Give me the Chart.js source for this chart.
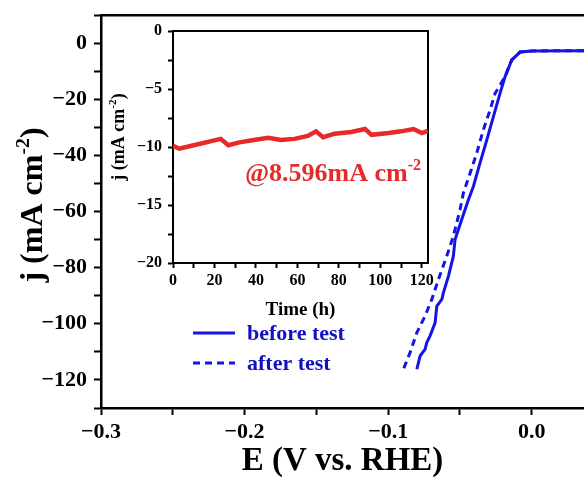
<!DOCTYPE html>
<html>
<head>
<meta charset="utf-8">
<script src="https://cdn.jsdelivr.net/npm/chart.js@4.4.0/dist/chart.umd.min.js"></script>
<style>
  html, body { margin: 0; padding: 0; background: #fff; }
  #wrap { position: relative; width: 584px; height: 481px; }
  #main { position: absolute; left: 0; top: 0; }
  #inset { position: absolute; left: 104px; top: 20px; }
</style>
</head>
<body>
<div id="wrap">
  <canvas id="main" width="584" height="481"></canvas>
  <canvas id="inset" width="336" height="305"></canvas>
</div>
<script>
// LSV curves, potential (V vs. RHE) and current density (mA cm-2)
const beforeE = [0.0364, 0.0, -0.0081, -0.0139, -0.0186, -0.0221, -0.0267, -0.0313, -0.036, -0.0406, -0.0441, -0.0476, -0.0534, -0.0546, -0.058, -0.0615, -0.0626, -0.0661, -0.0673, -0.0708, -0.0731, -0.0743, -0.0777, -0.0789, -0.08];
const beforeJ = [-2.7, -2.8, -3.2, -6.0, -12.0, -17.9, -26.2, -34.5, -42.7, -51.0, -55.8, -61.1, -70.0, -75.9, -83.0, -88.9, -91.3, -93.7, -99.6, -104.3, -106.7, -109.1, -111.4, -113.8, -116.2];
const afterE = [0.0364, 0.0, -0.0081, -0.0139, -0.0186, -0.0255, -0.029, -0.0337, -0.0383, -0.0429, -0.0476, -0.0499, -0.0546, -0.0592, -0.065, -0.0696, -0.0743, -0.08, -0.0847, -0.0894];
const afterJ = [-2.7, -2.8, -3.2, -6.0, -12.0, -17.9, -23.8, -30.9, -39.2, -46.3, -53.4, -59.3, -68.8, -75.9, -84.2, -91.3, -97.2, -103.1, -110.2, -116.2];
const seriesNames = ['before test', 'after test'];

// main axes ticks (labelled ones listed separately)
const eTicks = [-0.3, -0.25, -0.2, -0.15, -0.1, -0.05, 0.0];
const eLabels = ['\u22120.3', '\u22120.2', '\u22120.1', '0.0'];
const jTicks = [10, 0, -10, -20, -30, -40, -50, -60, -70, -80, -90, -100, -110, -120, -130];
const jLabels = ['0', '\u221220', '\u221240', '\u221260', '\u221280', '\u2212100', '\u2212120'];

// stability test (inset)
const timeH = [0, 3, 10, 19.5, 23, 26.7, 32, 39, 46, 52, 58.6, 65, 69, 72.4, 78, 86, 92.6, 95.8, 104, 110, 116, 120, 123];
const currJ = [-9.9, -10.15, -9.85, -9.45, -9.3, -9.85, -9.6, -9.4, -9.2, -9.4, -9.3, -9.05, -8.65, -9.15, -8.85, -8.7, -8.45, -8.95, -8.8, -8.65, -8.45, -8.8, -8.6];
const tTicks = [0, 10, 20, 30, 40, 50, 60, 70, 80, 90, 100, 110, 120];
const tLabels = ['0', '20', '40', '60', '80', '100', '120'];
const cTicks = [0, -2.5, -5, -7.5, -10, -12.5, -15, -17.5, -20];
const cLabels = ['0', '\u22125', '\u221210', '\u221215', '\u221220'];
const insetNote = ['@8.596mA cm', '-2'];

const serif = "'Liberation Serif', 'Times New Roman', serif";
const blue = '#1414e6';
const legendBlue = '#1010c4';
const red = '#e62a2a';

function fnt(size) { return 'bold ' + size + 'px ' + serif; }

// every other tick carries a label
function setTicks(values) {
    return s => { s.ticks = values.map(v => ({value: v})); };
}
function labelEvery(labels, offset) {
    return (v, i) => ((i - offset) % 2 === 0 ? labels[(i - offset) / 2] : '');
}

// fixed axis sizes, no extra room for overflowing labels
function fixW(w) { return s => { s.width = w; s.paddingTop = 0; s.paddingBottom = 0; }; }
function fixH(h) { return s => { s.height = h; s.paddingLeft = 0; s.paddingRight = 0; }; }

// text with a superscript part, drawn at baseline y
function drawRich(ctx, parts, x, y, size, color, align) {
    ctx.save();
    ctx.fillStyle = color;
    ctx.textBaseline = 'alphabetic';
    ctx.textAlign = 'left';
    let w = 0;
    parts.forEach(p => { ctx.font = fnt(p.sup ? size * 0.62 : size); w += ctx.measureText(p.text).width; });
    let cx = align === 'center' ? x - w / 2 : x;
    parts.forEach(p => {
        ctx.font = fnt(p.sup ? size * 0.62 : size);
        ctx.fillText(p.text, cx, p.sup ? y - size * 0.42 : y);
        cx += ctx.measureText(p.text).width;
    });
    ctx.restore();
}

const mainDecor = {
    id: 'mainDecor',
    afterDraw(chart) {
        const ctx = chart.ctx;
        // y title
        ctx.save();
        ctx.translate(42, 205);
        ctx.rotate(-Math.PI / 2);
        drawRich(ctx, [{text: 'j (mA cm'}, {text: '-2', sup: true}, {text: ')'}], 0, 0, 32, '#000', 'center');
        ctx.restore();
        // legend
        const ds = chart.data.datasets;
        const rows = [333, 363];
        ds.forEach((d, i) => {
            ctx.save();
            ctx.strokeStyle = d.borderColor;
            ctx.lineWidth = 3;
            ctx.setLineDash(d.borderDash || []);
            ctx.beginPath();
            ctx.moveTo(193, rows[i]);
            ctx.lineTo(235, rows[i]);
            ctx.stroke();
            ctx.restore();
            drawRich(ctx, [{text: d.label}], 247, rows[i] + 7, 22, legendBlue, 'left');
        });
    }
};

new Chart(document.getElementById('main'), {
    type: 'line',
    data: {
        datasets: [
            { label: seriesNames[0], data: beforeE.map((e, i) => ({x: e, y: beforeJ[i]})), borderColor: blue, borderWidth: 3, pointRadius: 0, tension: 0, fill: false },
            { label: seriesNames[1], data: afterE.map((e, i) => ({x: e, y: afterJ[i]})), borderColor: blue, borderWidth: 3, borderDash: [7, 5], pointRadius: 0, tension: 0, fill: false }
        ]
    },
    options: {
        responsive: false,
        animation: false,
        layout: { padding: { top: 15, left: 0, right: 0, bottom: 0 } },
        plugins: { legend: { display: false }, tooltip: { enabled: false } },
        scales: {
            x: {
                type: 'linear', position: 'bottom', min: -0.3, max: 0.0364,
                afterBuildTicks: setTicks(eTicks),
                ticks: {
                    autoSkip: false, maxRotation: 0, padding: 4, color: '#000',
                    font: { family: serif, size: 22, weight: 'bold' },
                    callback: labelEvery(eLabels, 0)
                },
                grid: { drawOnChartArea: false, drawTicks: true, tickLength: 7, tickWidth: 2, tickColor: '#000' },
                border: { display: true, color: '#000', width: 2.5 },
                title: { display: true, text: 'E (V vs. RHE)', color: '#000', font: { family: serif, size: 33, weight: 'bold' }, padding: { top: 0, bottom: 0 } },
                afterFit: fixH(73)
            },
            xTop: {
                type: 'linear', position: 'top', min: -0.3, max: 0.0364,
                ticks: { display: false }, grid: { display: false },
                border: { display: true, color: '#000', width: 2.5 },
                afterFit: fixH(0)
            },
            y: {
                type: 'linear', position: 'left', min: -130, max: 10,
                afterBuildTicks: setTicks(jTicks),
                ticks: {
                    autoSkip: false, padding: 7, color: '#000',
                    font: { family: serif, size: 22, weight: 'bold' },
                    callback: labelEvery(jLabels, 1)
                },
                grid: { drawOnChartArea: false, drawTicks: true, tickLength: 7, tickWidth: 2, tickColor: '#000' },
                border: { display: true, color: '#000', width: 2.5 },
                afterFit: fixW(101)
            }
        }
    },
    plugins: [mainDecor]
});

const insetDecor = {
    id: 'insetDecor',
    afterDraw(chart) {
        const ctx = chart.ctx;
        ctx.save();
        ctx.translate(20, 117);
        ctx.rotate(-Math.PI / 2);
        drawRich(ctx, [{text: 'j (mA cm'}, {text: '-2', sup: true}, {text: ')'}], 0, 0, 18, '#000', 'center');
        ctx.restore();
        const xs = chart.scales.x, ys = chart.scales.y;
        drawRich(ctx, [{text: insetNote[0]}, {text: insetNote[1], sup: true}],
            xs.getPixelForValue(34.7), ys.getPixelForValue(-12.9), 26, red, 'left');
    }
};

new Chart(document.getElementById('inset'), {
    type: 'line',
    data: {
        datasets: [
            { label: 'stability', data: timeH.map((t, i) => ({x: t, y: currJ[i]})), borderColor: red, borderWidth: 4.5, pointRadius: 0, tension: 0, fill: false }
        ]
    },
    options: {
        responsive: false,
        animation: false,
        layout: { padding: { top: 11, left: 0, right: 12, bottom: 0 } },
        plugins: { legend: { display: false }, tooltip: { enabled: false } },
        scales: {
            x: {
                type: 'linear', position: 'bottom', min: 0, max: 123,
                afterBuildTicks: setTicks(tTicks),
                ticks: {
                    autoSkip: false, maxRotation: 0, padding: 3, color: '#000',
                    font: { family: serif, size: 16, weight: 'bold' },
                    callback: labelEvery(tLabels, 0)
                },
                grid: { drawOnChartArea: false, drawTicks: true, tickLength: 5, tickWidth: 2, tickColor: '#000' },
                border: { display: true, color: '#000', width: 2 },
                title: { display: true, text: 'Time (h)', color: '#000', font: { family: serif, size: 19, weight: 'bold' }, padding: { top: 0, bottom: 4 } },
                afterFit: fixH(62)
            },
            x2: {
                type: 'linear', position: 'top', min: 0, max: 123,
                ticks: { display: false }, grid: { display: false },
                border: { display: true, color: '#000', width: 2 },
                afterFit: fixH(0)
            },
            y: {
                type: 'linear', position: 'left', min: -20, max: 0,
                afterBuildTicks: setTicks(cTicks),
                ticks: {
                    autoSkip: false, padding: 6, color: '#000',
                    font: { family: serif, size: 16, weight: 'bold' },
                    callback: labelEvery(cLabels, 0)
                },
                grid: { drawOnChartArea: false, drawTicks: true, tickLength: 5, tickWidth: 2, tickColor: '#000' },
                border: { display: true, color: '#000', width: 2 },
                afterFit: fixW(69)
            },
            y2: {
                type: 'linear', position: 'right', min: -20, max: 0,
                ticks: { display: false }, grid: { display: false },
                border: { display: true, color: '#000', width: 2 },
                afterFit: fixW(0)
            }
        }
    },
    plugins: [insetDecor]
});
</script>
</body>
</html>
